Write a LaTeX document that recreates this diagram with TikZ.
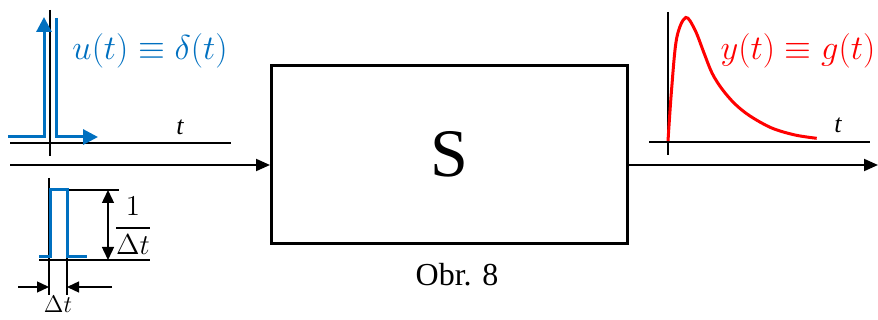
\documentclass[tikz,border=0pt]{standalone}
\usepackage{amsmath,amssymb}
\usepackage[no-math]{fontspec}
\setmainfont{Liberation Serif}
\usepackage{tikz}
\usetikzlibrary{calc,arrows.meta,positioning}
\definecolor{sigBlue}{RGB}{0,112,192}
\definecolor{sigRed}{RGB}{255,0,0}
\tikzset{
  axisline/.style={black, line width=0.8pt},
  thinline/.style={black, line width=0.7pt},
  sigline/.style={black, line width=1pt, -{Triangle[length=7pt,width=6pt]}},
  bluesig/.style={sigBlue, line width=1.5pt},
  bluetip/.style={-{Triangle[length=7.5pt,width=7.5pt]}},
  dimarrow/.style={black, line width=0.7pt, -{Triangle[length=6pt,width=5.5pt]}},
  biglabel/.style={font=\fontsize{16}{19}\selectfont},
  tlabel/.style={font=\fontsize{13}{15}\selectfont\itshape}
}

\begin{document}
\begin{tikzpicture}[x=0.5pt,y=-0.5pt]
\useasboundingbox (0,0) rectangle (878,320);

% system block
\node[draw, line width=1.5pt, minimum width=178pt, minimum height=89pt, inner sep=0pt,
      font=\fontsize{34}{40}\selectfont] (sys) at (449.5,154.5) {S};
\node[font=\fontsize{16}{19}\selectfont] (caption) at (457,275) {Obr. 8};

% input / output
\coordinate (in) at (10,165);
\coordinate (out) at (878,165);
\draw[sigline] (in) -- (in -| sys.west);
\draw[sigline] (out -| sys.east) -- (out);

% top left: Dirac impulse
\draw[axisline] (10,143) -- (231,143);
\draw[axisline] (50,10) -- (50,156);
\draw[bluesig, bluetip] (8,137) -- (44,137) -- (44,17);
\draw[bluesig, bluetip] (56,18) -- (56,137) -- (98,137);
\node[biglabel, text=sigBlue] (ulabel) at (150,51) {$u(t)\equiv\delta(t)$};
\node[tlabel] (tu) at (180,127) {t};

% bottom left: rectangular pulse
\draw[axisline] (49,178) -- (49,295);
\draw[thinline] (67,257) -- (67,295);
\draw[thinline] (67,190) -- (119,190);
\draw[thinline] (39,260) -- (150,260);
\draw[bluesig] (39,257) -- (50,257) -- (50,190) -- (67,190) -- (67,257) -- (87,257);
\draw[thinline, {Triangle[length=6.5pt,width=6pt]}-{Triangle[length=6.5pt,width=6pt]}] (108,190) -- (108,260);
\node[font=\fontsize{15}{18}\selectfont] (height) at (133,226) {$\dfrac{1}{\Delta t}$};
\draw[dimarrow] (18,287) -- (49,287);
\draw[dimarrow] (112,287) -- (67,287);
\node[font=\fontsize{13}{15}\selectfont, anchor=north, inner sep=0pt] (width) at (58,296) {$\Delta t$};

% top right: impulse response
\draw[axisline] (649,142) -- (870,142);
\draw[axisline] (668,12) -- (668,155);
\draw[sigRed, line width=1.5pt] plot[smooth, tension=0.55] coordinates {
  (668,141) (671.7,88) (676.7,38) (685.7,17.5) (695,30) (704,53) (712,73)
  (722,89) (735,104) (750,116) (771.7,128) (795,135) (816.7,138.3)};
\node[biglabel, text=sigRed] (ylabel) at (798,51) {$y(t)\equiv g(t)$};
\node[tlabel] (ty) at (838,125) {t};
\end{tikzpicture}
\end{document}
